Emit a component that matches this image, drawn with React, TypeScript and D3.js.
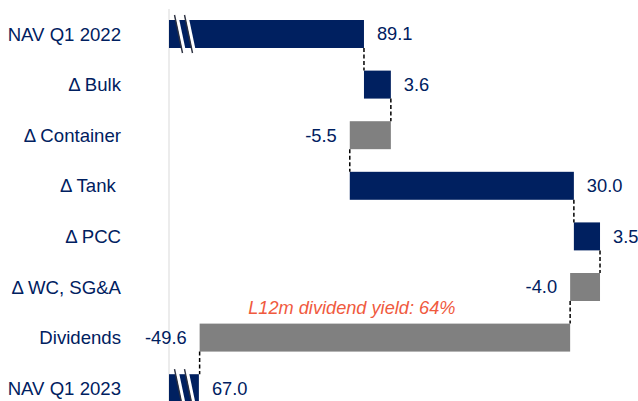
import React from "react";
import * as d3 from "d3";

const categories = ["NAV Q1 2022", "Δ Bulk", "Δ Container", "Δ Tank ", "Δ PCC", "Δ WC, SG&A", "Dividends", "NAV Q1 2023"];
const values = [89.1, 3.6, -5.5, 30.0, 3.5, -4.0, -49.6, 67.0];
const isTotal = [true, false, false, false, false, false, false, true];
const valueLabels = ["89.1", "3.6", "-5.5", "30.0", "3.5", "-4.0", "-49.6", "67.0"];
const annotation = "L12m dividend yield: 64%";
const axisMin = 63;
const axisMax = 130;

const W = 638;
const H = 401;
const NAVY = "#002060";
const GRAY = "#808080";
const FONT = "'Liberation Sans', Arial, Helvetica, sans-serif";

export default function App() {
  const x = d3.scaleLinear().domain([axisMin, axisMax]).range([169, 169 + (axisMax - axisMin) * 7.47]);
  const y = d3.scaleBand<string>().domain(categories).range([8.7, 413.5]).paddingInner(0.447).paddingOuter(0.2235);
  const bw = y.bandwidth();

  let cum = 0;
  const bars = categories.map((c, i) => {
    let start: number, end: number;
    if (isTotal[i]) {
      start = axisMin;
      end = values[i];
      cum = values[i];
    } else {
      start = cum;
      end = cum + values[i];
      cum = end;
    }
    return { c, i, start, end, after: isTotal[i] ? values[i] : end, neg: values[i] < 0 };
  });

  return (
    <svg width={W} height={H} style={{ position: "absolute", left: 0, top: 0, background: "#fff" }} fontFamily={FONT}>
      <rect x={0} y={0} width={W} height={H} fill="#fff" />
      <line x1={x(axisMin)} x2={x(axisMin)} y1={9} y2={H} stroke="#d9d9d9" strokeWidth={1} />
      {bars.map((b) => {
        const x0 = x(Math.min(b.start, b.end));
        const x1 = x(Math.max(b.start, b.end));
        const yy = y(b.c)!;
        return (
          <rect key={"b" + b.i} x={x0} y={yy} width={x1 - x0} height={bw} fill={b.neg ? GRAY : NAVY} />
        );
      })}
      {bars.slice(0, -1).map((b) => {
        const yy = y(b.c)! + bw;
        const yn = y(categories[b.i + 1])!;
        const xv = x(b.after);
        return (
          <line key={"c" + b.i} x1={xv} x2={xv} y1={yy} y2={yn} stroke="#000" strokeWidth={1.5} strokeDasharray="4,2.5" />
        );
      })}
      {bars.filter((b) => isTotal[b.i]).map((b) => {
        const yc = y(b.c)! + bw / 2;
        const base = x(axisMin);
        return (
          <g key={"s" + b.i}>
            {[6, 16].map((off) => (
              <g key={off}>
                <line x1={base + off + 1.5} y1={yc - 19} x2={base + off + 9.5} y2={yc + 19} stroke="#fff" strokeWidth={3.5} />
                <line x1={base + off - 0.5} y1={yc - 19} x2={base + off + 7.5} y2={yc + 19} stroke="#2b3040" strokeWidth={1.4} />
              </g>
            ))}
          </g>
        );
      })}
      {categories.map((c) => (
        <text key={"l" + c} x={121} y={y(c)! + bw / 2} dy="0.35em" textAnchor="end" fontSize={18.6} fill={NAVY} style={{ whiteSpace: "pre" }}>
          {c}
        </text>
      ))}
      {bars.map((b) => {
        const yc = y(b.c)! + bw / 2;
        const lx = b.neg ? x(Math.min(b.start, b.end)) - 13 : x(Math.max(b.start, b.end)) + 13;
        return (
          <text key={"v" + b.i} x={lx} y={yc} dy="0.35em" textAnchor={b.neg ? "end" : "start"} fontSize={18.3} fill={NAVY}>
            {valueLabels[b.i]}
          </text>
        );
      })}
      <text x={x(73.6)} y={y("Dividends")! - 10} fontSize={18.2} fontStyle="italic" fill="#F05A3E">
        {annotation}
      </text>
    </svg>
  );
}
